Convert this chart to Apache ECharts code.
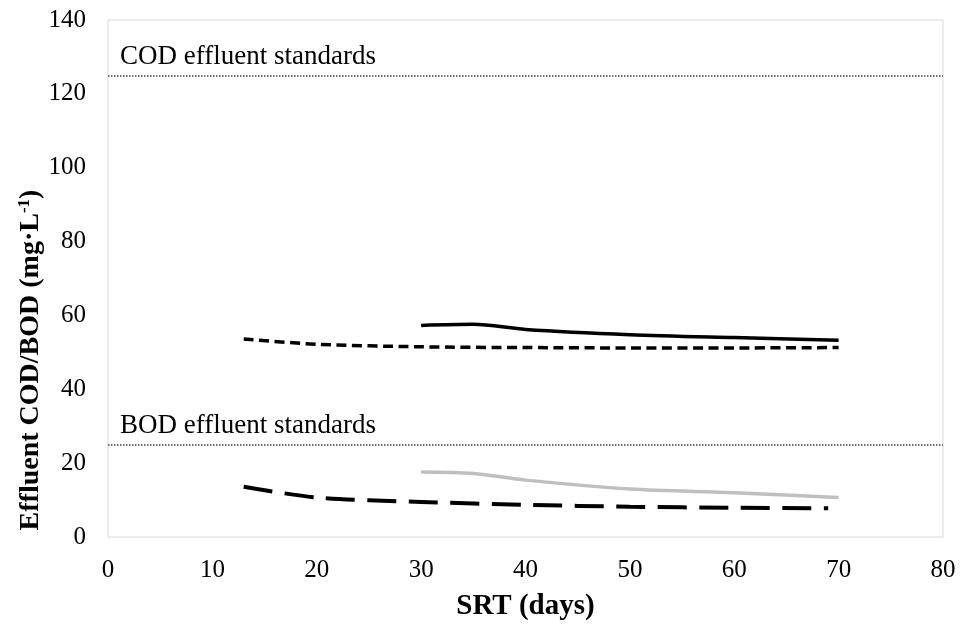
<!DOCTYPE html>
<html>
<head>
<meta charset="utf-8">
<script src="https://cdn.jsdelivr.net/npm/echarts@6/dist/echarts.min.js"></script>
<style>
  html, body { margin: 0; padding: 0; background: #fff; }
  #chart { width: 963px; height: 627px; }
</style>
</head>
<body>
<div id="chart"></div>
<script>
// ---- Data ----
var xTicks = [0, 10, 20, 30, 40, 50, 60, 70, 80];
var yTicks = [0, 20, 40, 60, 80, 100, 120, 140];

var codSolidX = [30, 35, 40, 50, 60, 70];
var codSolidY = [57.3, 57.6, 56.2, 54.8, 54.0, 53.3];

var codDashX = [13, 20, 30, 40, 50, 60, 70];
var codDashY = [53.6, 52.2, 51.5, 51.3, 51.2, 51.2, 51.3];

var bodGrayX = [30, 35, 40, 50, 60, 70];
var bodGrayY = [17.6, 17.2, 15.4, 13.0, 12.0, 10.7];

var bodDashX = [13, 20, 30, 40, 50, 60, 69];
var bodDashY = [13.6, 10.7, 9.5, 8.7, 8.2, 7.9, 7.8];

var codStandard = 125;
var bodStandard = 25;
var codStandardLabel = 'COD effluent standards';
var bodStandardLabel = 'BOD effluent standards';

function pairs(xs, ys) {
  return xs.map(function (x, i) { return [x, ys[i]]; });
}

var FONT = "'Liberation Serif', 'Times New Roman', serif";

var chart = echarts.init(document.getElementById('chart'), null, { renderer: 'canvas' });

function stdLabel(text) {
  return {
    show: true,
    formatter: text,
    position: 'insideStartTop',
    distance: [12, 5],
    color: '#000',
    fontFamily: FONT,
    fontSize: 27
  };
}

var option = {
  animation: false,
  backgroundColor: '#fff',
  grid: {
    left: 108, right: 20, top: 20, bottom: 90,
    show: true, borderColor: '#d9d9d9', borderWidth: 1
  },
  xAxis: {
    type: 'value', min: xTicks[0], max: xTicks[xTicks.length - 1], interval: 10,
    axisLine: { show: false }, axisTick: { show: false }, splitLine: { show: false },
    axisLabel: { color: '#000', fontFamily: FONT, fontSize: 25, margin: 21 },
    name: 'SRT (days)', nameLocation: 'middle', nameGap: 55,
    nameTextStyle: { color: '#000', fontFamily: FONT, fontSize: 29, fontWeight: 'bold' }
  },
  yAxis: {
    type: 'value', min: yTicks[0], max: yTicks[yTicks.length - 1], interval: 20,
    axisLine: { show: false }, axisTick: { show: false }, splitLine: { show: false },
    axisLabel: { color: '#000', fontFamily: FONT, fontSize: 25, margin: 22 }
  },
  graphic: [{
    type: 'text',
    x: 31, y: 360,
    rotation: Math.PI / 2,
    style: {
      text: '{b|Effluent COD/BOD (mg·L}{s|-1}{b|)}',
      align: 'center', verticalAlign: 'middle',
      fill: '#000',
      rich: {
        b: { fontFamily: FONT, fontSize: 28, fontWeight: 'bold', fill: '#000', lineHeight: 30 },
        s: { fontFamily: FONT, fontSize: 17, fontWeight: 'bold', fill: '#000', verticalAlign: 'top', lineHeight: 30, padding: [0, 0, 10, 0] }
      }
    }
  }],
  series: [
    {
      type: 'line', name: 'standards', data: [], symbol: 'none', silent: true,
      markLine: {
        silent: true, symbol: 'none',
        lineStyle: { color: '#404040', width: 1.5, type: [1.5, 1.5] },
        data: [
          { yAxis: codStandard, label: stdLabel(codStandardLabel) },
          { yAxis: bodStandard, label: stdLabel(bodStandardLabel) }
        ]
      }
    },
    {
      type: 'line', name: 'COD solid', data: pairs(codSolidX, codSolidY),
      symbol: 'none', smooth: 0.3,
      lineStyle: { color: '#000', width: 3.5 }
    },
    {
      type: 'line', name: 'COD dash', data: pairs(codDashX, codDashY),
      symbol: 'none', smooth: 0.3,
      lineStyle: { color: '#000', width: 3.5, type: [10, 5.5] }
    },
    {
      type: 'line', name: 'BOD gray', data: pairs(bodGrayX, bodGrayY),
      symbol: 'none', smooth: 0.3,
      lineStyle: { color: '#bfbfbf', width: 3.5 }
    },
    {
      type: 'line', name: 'BOD long dash', data: pairs(bodDashX, bodDashY),
      symbol: 'none', smooth: 0.3,
      lineStyle: { color: '#000', width: 4, type: [29, 12.5] }
    }
  ]
};

chart.setOption(option);
</script>
</body>
</html>
